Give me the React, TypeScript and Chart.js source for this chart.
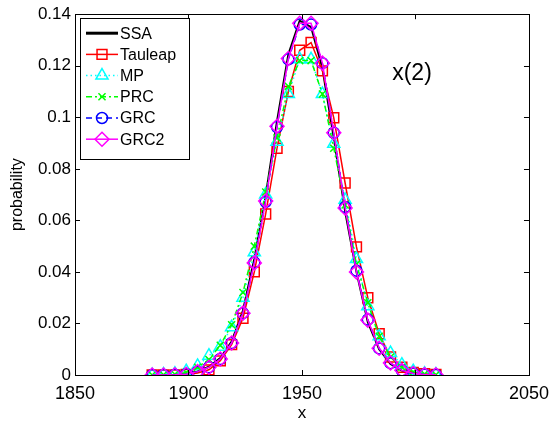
import React, { useEffect, useRef } from "react";
import { Chart, registerables } from "chart.js";
import { drawPoint } from "chart.js/helpers";

Chart.register(...registerables);

const xValues = [1884, 1889, 1894, 1899, 1904, 1909, 1914, 1919, 1924, 1929, 1934, 1939, 1944, 1949, 1954, 1959, 1964, 1969, 1974, 1979, 1984, 1989, 1994, 1999, 2004, 2009];

const ssa = [0, 0, 0.0001, 0.0004, 0.0014, 0.0032, 0.0066, 0.013, 0.025, 0.045, 0.0695, 0.0985, 0.1245, 0.1375, 0.135, 0.119, 0.092, 0.0635, 0.0400, 0.0205, 0.0100, 0.0043, 0.0017, 0.0006, 0.0002, 0.0001];
const tauleap = [0, 0, 0, 0.0002, 0.0008, 0.002, 0.0055, 0.0118, 0.022, 0.040, 0.0625, 0.088, 0.110, 0.126, 0.129, 0.118, 0.0998, 0.0745, 0.0497, 0.030, 0.016, 0.007, 0.003, 0.001, 0.0005, 0.0002];
const mp = [0, 0.0002, 0.0005, 0.0015, 0.0035, 0.0075, 0.011, 0.0185, 0.030, 0.0476, 0.070, 0.0905, 0.109, 0.1225, 0.1225, 0.109, 0.0897, 0.068, 0.045, 0.0267, 0.015, 0.0085, 0.004, 0.0015, 0.0005, 0.0002];
const prc = [0, 0.0001, 0.0003, 0.001, 0.003, 0.006, 0.0115, 0.0195, 0.032, 0.050, 0.071, 0.092, 0.112, 0.122, 0.122, 0.109, 0.088, 0.066, 0.043, 0.028, 0.015, 0.007, 0.003, 0.0012, 0.0004, 0.0001];
const grc = [0, 0, 0.0001, 0.0003, 0.0013, 0.003, 0.0062, 0.0124, 0.024, 0.0437, 0.0672, 0.0962, 0.1225, 0.136, 0.136, 0.121, 0.094, 0.0652, 0.0405, 0.0215, 0.0103, 0.0046, 0.0018, 0.0006, 0.0002, 0.0001];
const grc2 = [0, 0, 0.0001, 0.0003, 0.0013, 0.003, 0.0062, 0.0124, 0.024, 0.0435, 0.0675, 0.0965, 0.1228, 0.1365, 0.1365, 0.121, 0.094, 0.0648, 0.0400, 0.0213, 0.0104, 0.0047, 0.0018, 0.0006, 0.0002, 0.0001];

const seriesNames = ["SSA", "Tauleap", "MP", "PRC", "GRC", "GRC2"];
const xTicks = [1850, 1900, 1950, 2000, 2050];
const yTicks = [0, 0.02, 0.04, 0.06, 0.08, 0.1, 0.12, 0.14];
const annotationText = "x(2)";

const FONT = "'Liberation Sans', Arial, sans-serif";

type Style = { color: string; dash: number[]; width: number; point: any; radius: number };
const styles: Style[] = [
  { color: "#000000", dash: [], width: 2, point: false, radius: 0 },
  { color: "#ff0000", dash: [], width: 1.5, point: "rect", radius: 7 },
  { color: "#00ffff", dash: [1.5, 3], width: 1.5, point: "triangle", radius: 7 },
  { color: "#00ff00", dash: [6, 3, 2, 3], width: 1.5, point: "crossRot", radius: 5 },
  { color: "#0000ff", dash: [6, 4], width: 1.5, point: "circle", radius: 5.5 },
  { color: "#ff00ff", dash: [], width: 1.5, point: "rectRot", radius: 7 },
];

const allSeries = [ssa, tauleap, mp, prc, grc, grc2];

const framePlugin = {
  id: "frame",
  afterDraw(chart: any) {
    const { ctx, chartArea } = chart;
    const { left, right, top, bottom } = chartArea;
    const xs = chart.scales.x;
    const ys = chart.scales.y;
    ctx.save();
    ctx.strokeStyle = "#000";
    ctx.lineWidth = 1;
    ctx.setLineDash([]);
    ctx.strokeRect(Math.round(left) + 0.5, Math.round(top) + 0.5, Math.round(right - left), Math.round(bottom - top));
    const tl = 5;
    ctx.beginPath();
    xTicks.forEach((t) => {
      const px = Math.round(xs.getPixelForValue(t)) + 0.5;
      ctx.moveTo(px, bottom);
      ctx.lineTo(px, bottom - tl);
      ctx.moveTo(px, top);
      ctx.lineTo(px, top + tl);
    });
    yTicks.forEach((t) => {
      const py = Math.round(ys.getPixelForValue(t)) + 0.5;
      ctx.moveTo(left, py);
      ctx.lineTo(left + tl, py);
      ctx.moveTo(right, py);
      ctx.lineTo(right - tl, py);
    });
    ctx.stroke();

    // legend box
    const lx = left + 5;
    const ly = top + 4;
    const lw = 109;
    const lh = 141;
    ctx.fillStyle = "#fff";
    ctx.fillRect(lx, ly, lw, lh);
    ctx.strokeStyle = "#000";
    ctx.strokeRect(Math.round(lx) + 0.5, Math.round(ly) + 0.5, lw, lh);
    ctx.font = `16px ${FONT}`;
    ctx.textBaseline = "middle";
    ctx.textAlign = "left";
    seriesNames.forEach((name, i) => {
      const st = styles[i];
      const cy = ly + 15 + i * 21.2;
      ctx.strokeStyle = st.color;
      ctx.lineWidth = i === 0 ? 3 : st.width;
      ctx.setLineDash(st.dash);
      ctx.beginPath();
      ctx.moveTo(lx + 6, cy);
      ctx.lineTo(lx + 38, cy);
      ctx.stroke();
      ctx.setLineDash([]);
      if (st.point) {
        ctx.lineWidth = 1.5;
        ctx.strokeStyle = st.color;
        ctx.fillStyle = "rgba(0,0,0,0)";
        drawPoint(ctx, { pointStyle: st.point, radius: st.radius, rotation: 0, borderWidth: 1.5 } as any, lx + 22, cy);
      }
      ctx.fillStyle = "#000";
      ctx.fillText(name, lx + 40, cy + 1);
    });

    ctx.font = `23px ${FONT}`;
    ctx.textAlign = "center";
    ctx.fillStyle = "#000";
    ctx.fillText(annotationText, 412, 74);
    ctx.restore();
  },
};

export default function App() {
  const ref = useRef<HTMLCanvasElement>(null);
  useEffect(() => {
    if (!ref.current) return;
    const order = [6, 5, 4, 3, 2, 1];
    const chart = new Chart(ref.current, {
      type: "line",
      data: {
        datasets: allSeries.map((s, i) => ({
          label: seriesNames[i],
          data: s.map((y, k) => ({ x: xValues[k], y })),
          borderColor: styles[i].color,
          borderWidth: styles[i].width,
          borderDash: styles[i].dash,
          pointStyle: styles[i].point,
          pointRadius: styles[i].radius,
          pointBorderColor: styles[i].color,
          pointBackgroundColor: "rgba(0,0,0,0)",
          pointBorderWidth: 1.5,
          tension: 0,
          fill: false,
          order: order[i],
        })),
      },
      options: {
        animation: false,
        responsive: false,
        maintainAspectRatio: false,
        layout: { padding: { left: 0, right: 21, top: 13, bottom: 0 } },
        plugins: { legend: { display: false }, tooltip: { enabled: false } },
        scales: {
          x: {
            type: "linear",
            min: 1850,
            max: 2050,
            afterBuildTicks: (scale: any) => {
              scale.ticks = xTicks.map((v) => ({ value: v }));
            },
            afterFit: (scale: any) => {
              scale.height = 49;
            },
            grid: { display: false, drawTicks: false },
            border: { display: false },
            ticks: { color: "#000", font: { family: FONT, size: 18 }, padding: 8, maxRotation: 0, callback: (v: any) => String(v) },
            title: { display: true, text: "x", color: "#000", font: { family: FONT, size: 17 }, padding: { top: 0, bottom: 0 } },
          },
          y: {
            type: "linear",
            min: 0,
            max: 0.14,
            afterBuildTicks: (scale: any) => {
              scale.ticks = yTicks.map((v) => ({ value: v }));
            },
            afterFit: (scale: any) => {
              scale.width = 75;
            },
            grid: { display: false, drawTicks: false },
            border: { display: false },
            ticks: {
              color: "#000",
              font: { family: FONT, size: 17 },
              padding: 4,
              callback: (v: any) => String(Number(Number(v).toFixed(2))),
            },
            title: { display: true, text: "probability", color: "#000", font: { family: FONT, size: 16 }, padding: { top: 8, bottom: 2 } },
          },
        },
      },
      plugins: [framePlugin],
    });
    return () => chart.destroy();
  }, []);
  return (
    <div style={{ position: "fixed", left: 0, top: 0, width: 557, height: 424, background: "#fff" }}>
      <canvas ref={ref} width={557} height={424} style={{ width: 557, height: 424 }} />
    </div>
  );
}
